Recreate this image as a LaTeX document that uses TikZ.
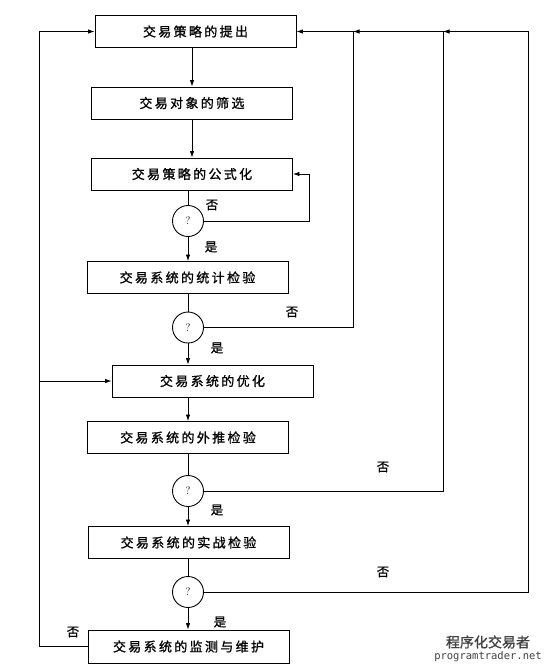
\documentclass[tikz,border=0pt]{standalone}
\usepackage{fontspec}
\newfontfamily\cjk[LetterSpace=18,FakeBold=1]{Noto Sans CJK SC}
\newfontfamily\cjklabel[FakeBold=1]{Noto Sans CJK SC}
\newfontfamily\wmmono{DejaVu Sans Mono}
\usetikzlibrary{calc,arrows.meta}
\tikzset{
  stagebox/.style={draw, line width=0.9pt, minimum width=201pt, minimum height=32pt, inner sep=0pt, font=\cjk\fontsize{13}{13}\selectfont},
  check/.style={draw, circle, line width=0.9pt, minimum size=31pt, inner sep=0pt, font=\fontsize{11}{11}\selectfont},
  answer/.style={inner sep=0pt, font=\cjklabel\fontsize{12.5}{12.5}\selectfont},
}

\begin{document}
\begin{tikzpicture}[x=1pt,y=-1pt,>={Latex[length=6.5pt,width=4.5pt]},line width=0.8pt]
        \useasboundingbox (0,0) rectangle (552,670);
        % stages and checks
        \node[stagebox] (b1) at (195.5,31.5) {交易策略的提出};
        \node[stagebox] (b2) at (192,103) {交易对象的筛选};
        \node[stagebox] (b3) at (192,174) {交易策略的公式化};
        \node[check] (c1) at (188,221) {?};
        \node[stagebox] (b4) at (187.5,277.5) {交易系统的统计检验};
        \node[check] (c2) at (188,327.5) {?};
        \node[stagebox] (b5) at (212.5,381) {交易系统的优化};
        \node[stagebox] (b6) at (188,437.5) {交易系统的外推检验};
        \node[check] (c3) at (188,491) {?};
        \node[stagebox] (b7) at (188.5,542.5) {交易系统的实战检验};
        \node[check] (c4) at (188,592) {?};
        \node[stagebox, minimum height=33pt] (b8) at (188.5,646.5) {交易系统的监测与维护};
        % main flow
        \draw[->] (b2.north |- b1.south) -- (b2.north);
        \draw[->] (b2) -- (b3);
        \draw (b3.south -| c1) -- (c1);
        \draw[->] (c1) -- (b4.north -| c1);
        \draw (b4.south -| c2) -- (c2);
        \draw[->] (c2) -- (b5.north -| c2);
        \draw[->] (b5.south -| c2) -- (b6.north -| c2);
        \draw (b6.south -| c3) -- (c3);
        \draw[->] (c3) -- (b7.north -| c3);
        \draw (b7.south -| c4) -- (c4);
        \draw[->] (c4) -- (b8.north -| c4);
        % feedback loops
        \coordinate (r1) at (309,0);
        \coordinate (r2) at (353,0);
        \coordinate (r3) at (443,0);
        \coordinate (r4) at (528,0);
        \coordinate (l1) at (39,0);
        \draw[->] (c1.east) -| (r1 |- b3.east) -- (b3.east);
        \draw[->] (c2.east) -| (r2 |- b1.east) -- (b1.east);
        \draw[->] (c3.east) -| (r3 |- b1.east) -- (r2 |- b1.east);
        \draw[->] (c4.east) -| (r4 |- b1.east) -- (r3 |- b1.east);
        \draw[->] (b8.west) -| (l1 |- b1.west) -- (b1.west);
        \draw[->] (l1 |- b5.west) -- (b5.west);
        % answers
        \node[answer] (n1) at (212,205) {否};
        \node[answer] (y1) at (211,247) {是};
        \node[answer] (n2) at (292,312) {否};
        \node[answer] (y2) at (217,348) {是};
        \node[answer] (n3) at (383,467) {否};
        \node[answer] (y3) at (217,510) {是};
        \node[answer] (n4) at (383,572) {否};
        \node[answer] (y4) at (220,622) {是};
        \node[answer] (n5) at (73,632) {否};
        % watermark
        \node[inner sep=0pt, text=black!75, font=\cjklabel\fontsize{14}{14}\selectfont] (wm1) at (488,642) {程序化交易者};
        \node[inner sep=0pt, text=black!75, font=\wmmono\fontsize{10.5}{10.5}\selectfont] (wm2) at (488,657) {programtrader.net};
    \end{tikzpicture}
\end{document}
